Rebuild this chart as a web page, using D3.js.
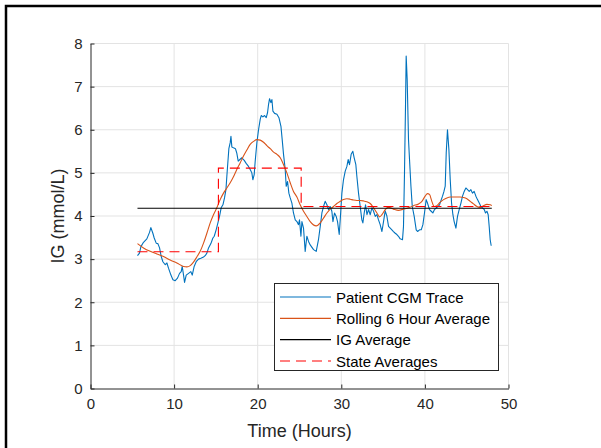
<!DOCTYPE html>
<html>
<head>
<meta charset="utf-8">
<script src="https://cdn.jsdelivr.net/npm/d3@7"></script>
<style>
  html, body { margin: 0; padding: 0; background: #fff; }
  svg { display: block; font-family: "Liberation Sans", Arial, Helvetica, sans-serif; }
</style>
</head>
<body>
<svg id="chart" width="601" height="448"></svg>
<script>
// Continuous glucose monitor trace (hours, mmol/L)
const cgmTime = [5.62,5.86,6.03,6.34,6.74,7.06,7.22,7.46,7.62,7.86,8.06,8.26,8.46,8.66,8.94,9.14,9.33,9.62,9.86,10.13,10.41,10.65,10.85,10.97,11.13,11.25,11.45,11.73,12.00,12.17,12.40,12.64,12.92,13.20,13.52,13.72,13.92,14.12,14.40,14.64,14.80,15.03,15.24,15.43,15.63,15.84,16.03,16.20,16.31,16.44,16.55,16.71,16.80,16.91,17.10,17.34,17.50,17.67,17.87,18.10,18.39,18.62,18.90,19.10,19.30,19.42,19.58,19.70,19.90,20.10,20.30,20.42,20.62,20.82,21.02,21.18,21.30,21.42,21.58,21.70,21.82,22.02,22.30,22.54,22.78,22.93,23.09,23.29,23.41,23.57,23.73,23.89,24.09,24.28,24.49,24.69,24.88,25.00,25.17,25.29,25.48,25.68,25.88,26.08,26.28,26.68,27.00,27.27,27.48,27.68,27.87,28.07,28.28,28.47,28.67,28.87,29.00,29.19,29.39,29.55,29.75,29.87,30.07,30.26,30.47,30.67,30.82,30.98,31.18,31.38,31.54,31.74,31.86,32.06,32.26,32.46,32.58,32.74,32.90,33.07,33.26,33.46,33.66,33.86,34.06,34.26,34.45,34.65,34.86,35.05,35.25,35.45,35.65,35.85,36.05,36.24,36.45,36.65,36.84,37.04,37.32,37.44,37.56,37.68,37.76,37.88,38.04,38.16,38.33,38.49,38.72,38.96,39.12,39.36,39.56,39.76,39.95,40.15,40.31,40.55,40.75,40.95,41.15,41.36,41.56,41.75,41.96,42.11,42.28,42.43,42.55,42.70,42.87,43.03,43.19,43.35,43.50,43.71,43.90,44.10,44.31,44.50,44.70,44.90,45.10,45.30,45.50,45.69,45.89,46.10,46.29,46.50,46.70,46.89,47.10,47.25,47.42,47.57,47.69,47.81,47.93];
const cgmValue = [3.08,3.14,3.29,3.39,3.47,3.62,3.73,3.60,3.49,3.37,3.36,3.26,3.06,2.94,2.87,2.91,2.79,2.63,2.52,2.50,2.56,2.67,2.71,2.83,2.63,2.46,2.63,2.67,2.71,2.63,2.83,2.94,3.00,3.02,3.05,3.08,3.14,3.26,3.36,3.49,3.53,3.68,3.84,3.99,4.19,4.26,4.42,4.61,4.92,5.27,5.56,5.70,5.85,5.60,5.58,5.56,5.46,5.27,5.31,5.35,5.29,5.22,5.15,5.08,5.00,4.84,4.96,5.27,5.70,6.00,6.24,6.33,6.30,6.33,6.28,6.40,6.59,6.72,6.63,6.70,6.43,6.38,6.36,6.28,6.08,5.77,5.43,5.08,4.69,4.80,4.53,4.42,4.30,4.07,3.91,3.87,3.80,3.91,3.53,3.87,3.72,3.18,3.53,3.41,3.33,3.22,3.18,3.45,3.76,4.07,4.22,4.34,4.26,4.15,4.22,4.11,3.87,4.07,3.99,3.87,3.57,3.91,4.53,4.84,5.04,5.15,5.31,5.19,5.43,5.50,5.35,5.19,4.92,4.53,4.22,3.91,3.84,4.07,4.26,4.03,4.15,4.03,4.19,4.11,3.99,4.03,3.91,3.80,3.64,3.87,4.12,4.00,3.76,3.72,3.68,3.64,3.60,3.57,3.53,3.47,3.45,3.76,5.00,6.55,7.71,7.17,5.77,5.31,4.69,4.22,3.99,3.68,3.64,3.68,3.68,3.80,4.07,4.38,4.30,4.15,4.11,4.07,4.15,4.19,4.22,4.26,4.38,4.46,4.57,4.69,5.46,6.00,5.54,4.84,4.30,4.03,3.87,3.72,3.99,4.15,4.30,4.46,4.57,4.65,4.61,4.57,4.61,4.53,4.57,4.46,4.38,4.30,4.22,4.19,4.15,4.07,4.11,4.03,3.76,3.45,3.31];

// Rolling 6 hour average
const rollTime = [5.62,6.34,7.14,7.94,8.73,9.53,10.33,11.13,11.53,11.93,12.32,12.72,13.12,13.52,13.92,14.32,14.71,15.11,15.51,15.91,16.31,16.71,17.10,17.50,17.90,18.30,18.70,19.10,19.50,19.90,20.30,20.70,21.10,21.50,21.90,22.30,22.70,23.09,23.49,23.89,24.28,24.69,25.08,25.48,25.88,26.28,27.00,27.48,27.87,28.28,28.67,29.07,29.47,29.87,30.26,30.67,31.06,31.46,31.86,32.26,32.65,33.06,33.46,33.86,34.26,34.58,34.86,35.25,35.65,36.24,36.84,37.44,38.04,38.64,39.24,39.64,40.03,40.31,40.55,40.83,41.11,41.44,41.83,42.23,42.63,43.03,43.42,43.82,44.22,44.62,45.02,45.42,45.81,46.22,46.61,47.01,47.42,47.81,48.00];
const rollValue = [3.36,3.26,3.18,3.12,3.06,2.98,2.91,2.83,2.82,2.85,2.93,3.05,3.18,3.37,3.60,3.84,4.03,4.19,4.38,4.53,4.65,4.77,4.91,5.08,5.23,5.39,5.53,5.66,5.73,5.77,5.76,5.71,5.63,5.56,5.48,5.43,5.35,5.19,5.00,4.77,4.57,4.44,4.26,4.11,3.99,3.87,3.77,3.84,3.95,4.07,4.16,4.22,4.29,4.34,4.38,4.40,4.39,4.37,4.36,4.36,4.35,4.33,4.29,4.19,4.07,3.98,4.03,4.15,4.20,4.16,4.13,4.16,4.19,4.24,4.28,4.34,4.46,4.52,4.50,4.34,4.22,4.24,4.32,4.38,4.42,4.44,4.44,4.44,4.44,4.43,4.40,4.34,4.28,4.22,4.20,4.24,4.27,4.26,4.24];

// Overall mean over the recording
const igAverageTime = [5.62, 48.0];
const igAverage = 4.18;

// Per-state averages (state start times, last entry = end of recording)
const stateBounds = [5.62, 15.3, 25.2, 48.0];
const stateValues = [3.17, 5.11, 4.22];

const xTicks = [0, 10, 20, 30, 40, 50];
const yTicks = [0, 1, 2, 3, 4, 5, 6, 7, 8];

const legendLabels = ["Patient CGM Trace", "Rolling 6 Hour Average", "IG Average", "State Averages"];

const colors = { cgm: "#0072BD", roll: "#D95319", avg: "#000000", state: "#FF0000" };
const axisColor = "#262626";
const gridColor = "#e3e3e3";

const svg = d3.select("#chart");

// Figure frame edges
svg.append("path")
  .attr("d", "M6,448 L6,6 L601,6")
  .attr("fill", "none")
  .attr("stroke", "#000")
  .attr("stroke-width", 2.5);

const x = d3.scaleLinear().domain([0, 50]).range([90.5, 508.5]);
const y = d3.scaleLinear().domain([0, 8]).range([388.5, 43.5]);

// Grid
const grid = svg.append("g");
grid.selectAll("line.gx").data(xTicks.filter(d => d > 0)).join("line")
  .attr("x1", d => x(d)).attr("x2", d => x(d))
  .attr("y1", y(0)).attr("y2", y(8))
  .attr("stroke", gridColor).attr("stroke-width", 1);
grid.selectAll("line.gy").data(yTicks.filter(d => d > 0)).join("line")
  .attr("x1", x(0)).attr("x2", x(50))
  .attr("y1", d => y(d)).attr("y2", d => y(d))
  .attr("stroke", gridColor).attr("stroke-width", 1);

// Series
const cgmPts = cgmTime.map((t, i) => [t, cgmValue[i]]);
const rollPts = rollTime.map((t, i) => [t, rollValue[i]]);
const statePts = stateBounds.map((t, i) => [t, stateValues[Math.min(i, stateValues.length - 1)]]);

const line = d3.line().x(d => x(d[0])).y(d => y(d[1]));

svg.append("path").datum(cgmPts)
  .attr("d", line)
  .attr("fill", "none").attr("stroke", colors.cgm).attr("stroke-width", 1.1)
  .attr("stroke-linejoin", "round");

svg.append("path").datum(rollPts)
  .attr("d", line.curve(d3.curveMonotoneX))
  .attr("fill", "none").attr("stroke", colors.roll).attr("stroke-width", 1.1);

svg.append("path").datum(igAverageTime.map(t => [t, igAverage]))
  .attr("d", d3.line().x(d => x(d[0])).y(d => y(d[1])))
  .attr("fill", "none").attr("stroke", colors.avg).attr("stroke-width", 1.1);

svg.append("path").datum(statePts)
  .attr("d", d3.line().x(d => x(d[0])).y(d => y(d[1])).curve(d3.curveStepAfter))
  .attr("fill", "none").attr("stroke", colors.state).attr("stroke-width", 1.1)
  .attr("stroke-dasharray", "10,6");

// Axes
const xAxis = d3.axisBottom(x).tickValues(xTicks).tickSizeInner(-4).tickSizeOuter(0).tickPadding(10);
const yAxis = d3.axisLeft(y).tickValues(yTicks).tickSizeInner(-4).tickSizeOuter(0).tickPadding(8);

const gx = svg.append("g").attr("transform", `translate(0,${y(0)})`).call(xAxis);
const gy = svg.append("g").attr("transform", `translate(${x(0)},0)`).call(yAxis);
[gx, gy].forEach(g => {
  g.select(".domain").attr("stroke", axisColor).attr("stroke-width", 1);
  g.selectAll(".tick line").attr("stroke", axisColor);
  g.selectAll(".tick text").attr("fill", axisColor)
    .style("font-size", "15px").style("font-family", "'Liberation Sans', Arial, sans-serif");
});
gx.selectAll(".tick text").attr("dy", "0.71em");

svg.append("text")
  .attr("x", (x(0) + x(50)) / 2).attr("y", 437)
  .attr("text-anchor", "middle").attr("fill", axisColor)
  .style("font-size", "18px")
  .text("Time (Hours)");

svg.append("text")
  .attr("transform", `translate(64,${(y(0) + y(8)) / 2}) rotate(-90)`)
  .attr("text-anchor", "middle").attr("fill", axisColor)
  .style("font-size", "18px")
  .text("IG (mmol/L)");

// Legend
const legend = svg.append("g");
legend.append("rect")
  .attr("x", 274.5).attr("y", 283.5).attr("width", 224).attr("height", 87)
  .attr("fill", "#fff").attr("stroke", axisColor).attr("stroke-width", 1);

const legendStyles = [
  { color: colors.cgm, dash: null },
  { color: colors.roll, dash: null },
  { color: colors.avg, dash: null },
  { color: colors.state, dash: "10,6" }
];
const rowY = d3.scalePoint().domain(d3.range(legendLabels.length)).range([297, 361]);

legendLabels.forEach((label, i) => {
  const cy = rowY(i);
  legend.append("line")
    .attr("x1", 280).attr("x2", 331).attr("y1", cy).attr("y2", cy)
    .attr("stroke", legendStyles[i].color).attr("stroke-width", 1.1)
    .attr("stroke-dasharray", legendStyles[i].dash);
  legend.append("text")
    .attr("x", 336).attr("y", cy + 5.5)
    .attr("fill", "#000").style("font-size", "15px")
    .text(label);
});
</script>
</body>
</html>
